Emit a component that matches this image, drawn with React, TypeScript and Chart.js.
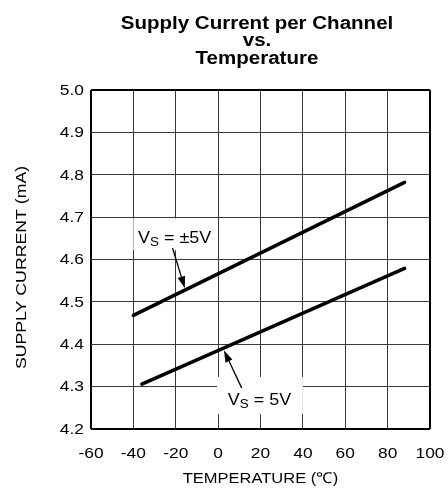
import React, { useEffect, useRef } from "react";
import { Chart, registerables } from "chart.js";

Chart.register(...registerables);

// ---- data ----
const temperatureTicks = [-60, -40, -20, 0, 20, 40, 60, 80, 100];
const currentTicks = [4.2, 4.3, 4.4, 4.5, 4.6, 4.7, 4.8, 4.9, 5.0];
const dualSupplyTemp = [-40, 88];
const dualSupplyCurrent = [4.468, 4.782];
const singleSupplyTemp = [-36, 88];
const singleSupplyCurrent = [4.306, 4.579];

const titleLines = ["Supply Current per Channel", "vs.", "Temperature"];
const xTitle = "TEMPERATURE (℃)";
const yTitle = "SUPPLY CURRENT (mA)";

// annotation placement in data units
const notes = [
  {
    rest: " = ±5V",
    box: [-40, -1.5, 4.622, 4.697],
    textAt: [-37.8, 4.639],
    arrowFrom: [-21.5, 4.627],
    arrowTo: [-15.7, 4.532],
  },
  {
    rest: " = 5V",
    box: [-0.5, 40, 4.235, 4.323],
    textAt: [4.6, 4.257],
    arrowFrom: [11.1, 4.297],
    arrowTo: [2.7, 4.386],
  },
];

const FONT = "'Liberation Sans', Arial, Helvetica, sans-serif";

function stretchText(
  ctx: CanvasRenderingContext2D,
  s: string,
  x: number,
  y: number,
  align: CanvasTextAlign,
  font: string,
  sx: number,
  baseline: CanvasTextBaseline = "alphabetic"
) {
  ctx.save();
  ctx.font = font;
  ctx.textAlign = align;
  ctx.textBaseline = baseline;
  ctx.translate(x, y);
  ctx.scale(sx, 1);
  ctx.fillText(s, 0, 0);
  ctx.restore();
}

const toPoints = (xs: number[], ys: number[]) => xs.map((x, i) => ({ x, y: ys[i] }));

const decorPlugin = {
  id: "decor",
  beforeDraw(chart: any) {
    const { ctx, width, height } = chart;
    ctx.save();
    ctx.fillStyle = "#ffffff";
    ctx.fillRect(0, 0, width, height);
    ctx.restore();
  },
  beforeDatasetsDraw(chart: any) {
    const { ctx } = chart;
    const xs = chart.scales.x;
    const ys = chart.scales.y;
    ctx.save();
    ctx.fillStyle = "#ffffff";
    for (const n of notes) {
      const x0 = xs.getPixelForValue(n.box[0]);
      const x1 = xs.getPixelForValue(n.box[1]);
      const y0 = ys.getPixelForValue(n.box[3]);
      const y1 = ys.getPixelForValue(n.box[2]);
      ctx.fillRect(x0, y0, x1 - x0, y1 - y0);
    }
    ctx.restore();
  },
  afterDraw(chart: any) {
    const { ctx, chartArea } = chart;
    const xs = chart.scales.x;
    const ys = chart.scales.y;
    ctx.save();
    ctx.fillStyle = "#000000";
    const tickFont = `15.5px ${FONT}`;
    const sx = 1.12;
    // x ticks
    for (const t of temperatureTicks) {
      stretchText(ctx, String(t), xs.getPixelForValue(t), 453.5, "center", tickFont, sx, "middle");
    }
    // y ticks
    for (const t of currentTicks) {
      stretchText(ctx, t.toFixed(1), chartArea.left - 7, ys.getPixelForValue(t) + 0.5, "right", tickFont, sx, "middle");
    }
    // x title
    stretchText(ctx, xTitle, (chartArea.left + chartArea.right) / 2, 483, "center", `15px ${FONT}`, 1.1);
    // y title
    ctx.save();
    ctx.translate(26, (chartArea.top + chartArea.bottom) / 2 + 8);
    ctx.rotate(-Math.PI / 2);
    stretchText(ctx, yTitle, 0, 0, "center", `15px ${FONT}`, 1.18);
    ctx.restore();
    // main title
    const tb = [28.5, 46, 63.5];
    titleLines.forEach((l, i) => {
      stretchText(ctx, l, 257, tb[i], "center", `bold 18px ${FONT}`, 1.14);
    });

    // annotations
    for (const n of notes) {
      const tx = xs.getPixelForValue(n.textAt[0]);
      const ty = ys.getPixelForValue(n.textAt[1]);
      const big = `16px ${FONT}`;
      const small = `12px ${FONT}`;
      const s2 = 1.12;
      ctx.font = big;
      const wV = ctx.measureText("V").width * s2;
      stretchText(ctx, "V", tx, ty, "left", big, s2);
      ctx.font = small;
      const wS = ctx.measureText("S").width * s2;
      stretchText(ctx, "S", tx + wV, ty + 3, "left", small, s2);
      stretchText(ctx, n.rest, tx + wV + wS, ty, "left", big, s2);

      // arrow
      const ax = xs.getPixelForValue(n.arrowFrom[0]);
      const ay = ys.getPixelForValue(n.arrowFrom[1]);
      const bx = xs.getPixelForValue(n.arrowTo[0]);
      const by = ys.getPixelForValue(n.arrowTo[1]);
      const ang = Math.atan2(by - ay, bx - ax);
      const headLen = 12;
      const headW = 3.8;
      const hx = bx - headLen * Math.cos(ang);
      const hy = by - headLen * Math.sin(ang);
      ctx.strokeStyle = "#000";
      ctx.lineWidth = 1.3;
      ctx.beginPath();
      ctx.moveTo(ax, ay);
      ctx.lineTo(hx, hy);
      ctx.stroke();
      ctx.beginPath();
      ctx.moveTo(bx, by);
      ctx.lineTo(hx + headW * Math.sin(ang), hy - headW * Math.cos(ang));
      ctx.lineTo(hx - headW * Math.sin(ang), hy + headW * Math.cos(ang));
      ctx.closePath();
      ctx.fillStyle = "#000";
      ctx.fill();
    }
    ctx.restore();
  },
};

export default function App() {
  const ref = useRef<HTMLCanvasElement | null>(null);
  useEffect(() => {
    if (!ref.current) return;
    const edge = (c: any, lo: number, hi: number) =>
      c.tick && (Math.abs(c.tick.value - lo) < 1e-6 || Math.abs(c.tick.value - hi) < 1e-6);
    const chart = new Chart(ref.current, {
      type: "scatter",
      data: {
        datasets: [
          {
            label: "VS = ±5V",
            data: toPoints(dualSupplyTemp, dualSupplyCurrent),
            showLine: true,
            borderColor: "#000",
            borderWidth: 3.5,
            borderCapStyle: "round",
            pointRadius: 0,
          },
          {
            label: "VS = 5V",
            data: toPoints(singleSupplyTemp, singleSupplyCurrent),
            showLine: true,
            borderColor: "#000",
            borderWidth: 3.5,
            borderCapStyle: "round",
            pointRadius: 0,
          },
        ],
      },
      options: {
        animation: false,
        responsive: false,
        events: [],
        layout: { padding: { left: 91, right: 18, top: 90, bottom: 60 } },
        plugins: { legend: { display: false }, tooltip: { enabled: false }, title: { display: false } },
        scales: {
          x: {
            type: "linear",
            min: -60,
            max: 100,
            afterBuildTicks: (s: any) => {
              s.ticks = temperatureTicks.map((v) => ({ value: v }));
            },
            afterFit: (s: any) => {
              s.height = 0;
            },
            ticks: { display: false },
            border: { display: false },
            grid: {
              drawTicks: false,
              color: (c: any) => (edge(c, -60, 100) ? "#000" : "#3a3a3a"),
              lineWidth: (c: any) => (edge(c, -60, 100) ? 2 : 1),
            },
          },
          y: {
            type: "linear",
            min: 4.2,
            max: 5.0,
            afterBuildTicks: (s: any) => {
              s.ticks = currentTicks.map((v) => ({ value: v }));
            },
            afterFit: (s: any) => {
              s.width = 0;
            },
            ticks: { display: false },
            border: { display: false },
            grid: {
              drawTicks: false,
              color: (c: any) => (edge(c, 4.2, 5.0) ? "#000" : "#3a3a3a"),
              lineWidth: (c: any) => (edge(c, 4.2, 5.0) ? 2 : 1),
            },
          },
        },
      },
      plugins: [decorPlugin],
    } as any);
    return () => chart.destroy();
  }, []);
  return (
    <div style={{ position: "absolute", left: 0, top: 0, width: 448, height: 489 }}>
      <canvas ref={ref} width={448} height={489} style={{ display: "block" }} />
    </div>
  );
}
